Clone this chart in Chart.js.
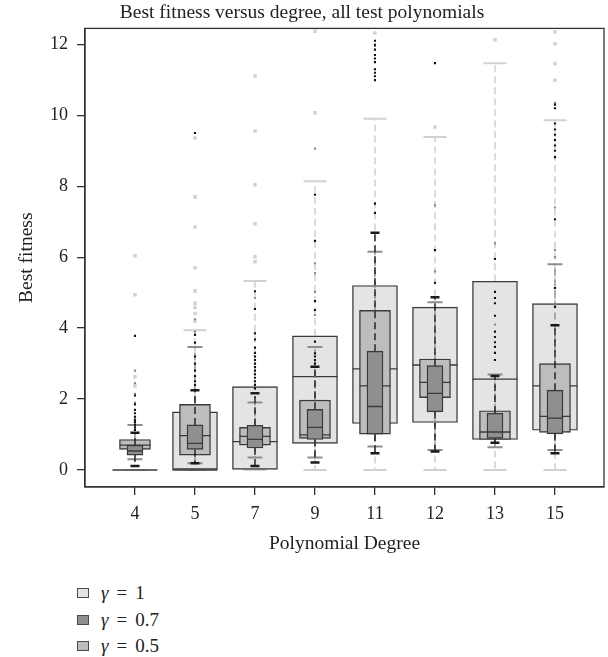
<!DOCTYPE html>
<html>
<head>
<meta charset="utf-8">
<title>Best fitness versus degree</title>
<script src="https://cdn.jsdelivr.net/npm/chart.js@4.4.1/dist/chart.umd.min.js"></script>
<style>
    html, body { margin: 0; padding: 0; background: #ffffff; }
    #wrap { position: relative; width: 608px; height: 657px; }
    #legend { position: absolute; left: 77px; top: 580px; font: 19px 'Liberation Serif', serif; color: #222; }
    #legend .item { height: 26.5px; line-height: 26.5px; display: flex; align-items: center; }
    #legend .sw { width: 10px; height: 8px; border: 1px solid #4a4a4a; margin-right: 12px; }
    #legend .eq { margin: 0 8px; }
</style>
</head>
<body>
<div id="wrap">
    <canvas id="chart" width="608" height="570"></canvas>
    <div id="legend">
        <div class="item"><span class="sw" style="background:#e4e4e6"></span><i>γ</i><span class="eq">=</span>1</div>
        <div class="item"><span class="sw" style="background:#8f8f91"></span><i>γ</i><span class="eq">=</span>0.7</div>
        <div class="item"><span class="sw" style="background:#bdbdbf"></span><i>γ</i><span class="eq">=</span>0.5</div>
    </div>
</div>
<script>
// polynomial degrees on the x axis
const degrees = ['4', '5', '7', '9', '11', '12', '13', '15'];
const yTicks = [0, 2, 4, 6, 8, 10, 12];

// gamma = 1 (wide light boxes)
const g1Low    = [0, 0, 0, 0, 0, 0, 0, 0];
const g1Q1     = [0, 0, 0, 0.75, 1.31, 1.34, 0.86, 1.12];
const g1Median = [0, 0, 0.80, 2.63, 2.85, 2.96, 2.56, 2.37];
const g1Q3     = [0, 1.64, 2.35, 3.78, 5.20, 4.59, 5.32, 4.69];
const g1High   = [0, 3.94, 5.33, 8.14, 9.90, 9.39, 11.47, 9.86];
const g1Out = [
    [6.04, 4.94, 2.63, 2.37],
    [9.36, 7.70, 6.85, 5.70, 5.05, 4.70, 4.58, 4.41, 4.20],
    [11.11, 9.56, 8.04, 6.94, 6.01, 5.87],
    [12.37, 10.07],
    [12.32],
    [9.67],
    [12.13],
    [12.35, 12.02, 11.46, 10.99]
];

// gamma = 0.5 (middle boxes)
const g05Low    = [0.30, 0.19, 0.35, 0.35, 0.66, 0.56, 0.64, 0.56];
const g05Q1     = [0.58, 0.42, 0.70, 0.89, 1.01, 2.04, 0.86, 1.06];
const g05Median = [0.70, 0.97, 0.95, 0.99, 2.37, 2.47, 1.07, 1.51];
const g05Q3     = [0.86, 1.85, 1.20, 1.97, 4.50, 3.13, 1.67, 3.00];
const g05High   = [1.27, 3.47, 1.90, 3.47, 6.15, 4.73, 2.69, 5.80];
const g05Out = [
    [2.80, 2.45, 2.15, 1.90, 1.70, 1.50, 1.38],
    [4.25, 3.90],
    [4.85, 3.20, 2.70, 2.30, 2.05],
    [9.06, 5.83, 5.55, 5.02, 4.37],
    [12.00, 11.30],
    [7.46, 5.60],
    [6.39, 4.10, 3.30],
    [10.35, 7.40, 6.20, 6.00]
];

// gamma = 0.7 (narrow dark boxes)
const g07Low    = [0.11, 0.19, 0.11, 0.21, 0.47, 0.52, 0.77, 0.47];
const g07Q1     = [0.42, 0.58, 0.62, 0.86, 1.01, 1.64, 0.89, 1.02];
const g07Median = [0.535, 0.75, 0.86, 1.20, 1.79, 2.16, 1.07, 1.46];
const g07Q3     = [0.70, 1.27, 1.26, 1.71, 3.35, 2.94, 1.60, 2.25];
const g07High   = [1.05, 2.25, 2.16, 2.91, 6.69, 4.87, 2.65, 4.08];
const g07Out = [
    [3.78, 2.10, 1.85, 1.69, 1.60, 1.50, 1.42, 1.35, 1.28, 1.20, 1.13],
    [9.50, 3.81, 3.59, 3.20, 3.00, 2.80, 2.65, 2.50, 2.40],
    [5.04, 4.54, 3.85, 3.68, 3.45, 3.30, 3.20, 3.10, 3.00, 2.90, 2.80, 2.70, 2.60, 2.50, 2.40, 2.30],
    [7.76, 6.46, 4.76, 4.51, 3.62, 3.29, 3.20, 3.10, 3.00],
    [12.10, 11.97, 11.85, 11.70, 11.60, 11.50, 11.30, 11.20, 11.10, 10.99, 7.51, 7.25],
    [11.47, 6.20, 5.28],
    [5.95, 5.02, 4.85, 4.70, 4.35, 3.90, 3.75, 3.60, 3.47, 3.30, 3.10],
    [10.30, 10.20, 9.77, 9.60, 9.45, 9.30, 9.15, 9.00, 8.82, 7.07, 5.13, 4.60]
];

const serif = "'Liberation Serif', 'Times New Roman', serif";
const boxEdge = '#3a3a3a';

let drawOrder = 100;

// builds the datasets for one box-plot series
const boxGroup = (low, q1, med, q3, high, outliers, style) => {
    const whiskerData = [];
    low.forEach((v, i) => {
        whiskerData.push({ x: i, y: q3[i] }, { x: i, y: high[i] }, { x: i, y: null });
        whiskerData.push({ x: i, y: q1[i] }, { x: i, y: v }, { x: i, y: null });
    });
    const capData = [];
    low.forEach((v, i) => { capData.push({ x: i, y: v }, { x: i, y: high[i] }); });

    return [
        {
            type: 'line',
            data: whiskerData,
            borderColor: style.whisker,
            borderWidth: style.whiskerWidth,
            borderDash: [7, 4],
            pointRadius: 0,
            spanGaps: false,
            order: drawOrder--
        },
        {
            type: 'scatter',
            data: capData,
            pointStyle: 'line',
            pointRadius: style.cap,
            pointBorderColor: style.whisker,
            pointBorderWidth: style.capWidth,
            order: drawOrder--
        },
        {
            type: 'bar',
            data: q1.map((v, i) => ({ x: i, y: [v, q3[i]] })),
            backgroundColor: style.fill,
            borderColor: boxEdge,
            borderWidth: 1.4,
            borderSkipped: false,
            grouped: false,
            barThickness: style.width,
            maxBarThickness: style.width,
            order: drawOrder--
        },
        {
            type: 'scatter',
            data: med.map((v, i) => ({ x: i, y: v })),
            pointStyle: 'line',
            pointRadius: style.width / 2,
            pointBorderColor: boxEdge,
            pointBorderWidth: 1.3,
            order: drawOrder--
        },
        {
            type: 'scatter',
            data: outliers.flatMap((vals, i) => vals.map(v => ({ x: i, y: v }))),
            pointStyle: 'rect',
            pointRadius: style.dot,
            pointBackgroundColor: style.outlier,
            pointBorderWidth: 0,
            order: drawOrder--
        }
    ];
};

const datasets = [
    ...boxGroup(g1Low, g1Q1, g1Median, g1Q3, g1High, g1Out, {
        fill: '#e4e4e6', whisker: '#d2d2d2', outlier: '#d2d2d2', whiskerWidth: 1.6,
        width: 45, cap: 11.5, capWidth: 2, dot: 2.5
    }),
    ...boxGroup(g05Low, g05Q1, g05Median, g05Q3, g05High, g05Out, {
        fill: '#bdbdbf', whisker: '#8c8c8c', outlier: '#8c8c8c', whiskerWidth: 1.4,
        width: 31, cap: 7.5, capWidth: 2, dot: 1.5
    }),
    ...boxGroup(g07Low, g07Q1, g07Median, g07Q3, g07High, g07Out, {
        fill: '#8f8f91', whisker: '#1a1a1a', outlier: '#111111', whiskerWidth: 1.4,
        width: 16, cap: 4.5, capWidth: 2.5, dot: 1.5
    })
];

// thin frame around the plot area
const framePlugin = {
    id: 'frame',
    afterDraw(chart) {
        const { ctx, chartArea: a } = chart;
        ctx.save();
        ctx.strokeStyle = '#333333';
        ctx.lineWidth = 1.3;
        ctx.strokeRect(a.left, a.top, a.right - a.left, a.bottom - a.top);
        ctx.restore();
    }
};

new Chart(document.getElementById('chart'), {
    type: 'bar',
    data: { datasets },
    plugins: [framePlugin],
    options: {
        responsive: false,
        animation: false,
        events: [],
        layout: { padding: { left: 0, right: 4, top: 0, bottom: 0 }, autoPadding: false },
        plugins: {
            legend: { display: false },
            tooltip: { enabled: false },
            title: {
                display: true,
                text: 'Best fitness versus degree, all test polynomials',
                color: '#222',
                font: { family: serif, size: 19.5, weight: 'normal' },
                padding: { top: 1, bottom: 4 }
            }
        },
        scales: {
            x: {
                type: 'linear',
                offset: false,
                min: -0.833,
                max: 7.817,
                afterBuildTicks: scale => { scale.ticks = degrees.map((d, i) => ({ value: i })); },
                afterFit: scale => {
                    scale.height = 83;
                    scale.paddingLeft = 0;
                    scale.paddingRight = 0;
                },
                ticks: {
                    color: '#222',
                    font: { family: serif, size: 18 },
                    padding: 8,
                    callback: v => degrees[v]
                },
                grid: { offset: false, drawOnChartArea: false, tickLength: 8, color: '#333', lineWidth: 1.3 },
                border: { color: '#333', width: 1.3 },
                title: {
                    display: true,
                    text: 'Polynomial Degree',
                    color: '#222',
                    font: { family: serif, size: 19.5 },
                    padding: { top: 0, bottom: 14 }
                }
            },
            y: {
                type: 'linear',
                min: -0.48,
                max: 12.45,
                afterBuildTicks: scale => { scale.ticks = yTicks.map(v => ({ value: v })); },
                afterFit: scale => {
                    scale.width = 85;
                    scale.paddingTop = 0;
                    scale.paddingBottom = 0;
                },
                ticks: {
                    color: '#222',
                    font: { family: serif, size: 18 },
                    padding: 9
                },
                grid: { drawOnChartArea: false, tickLength: 8, color: '#333', lineWidth: 1.3 },
                border: { color: '#333', width: 1.3 },
                title: {
                    display: true,
                    text: 'Best fitness',
                    color: '#222',
                    font: { family: serif, size: 19.5 },
                    padding: { top: 15, bottom: 0 }
                }
            }
        }
    }
});
</script>
</body>
</html>
